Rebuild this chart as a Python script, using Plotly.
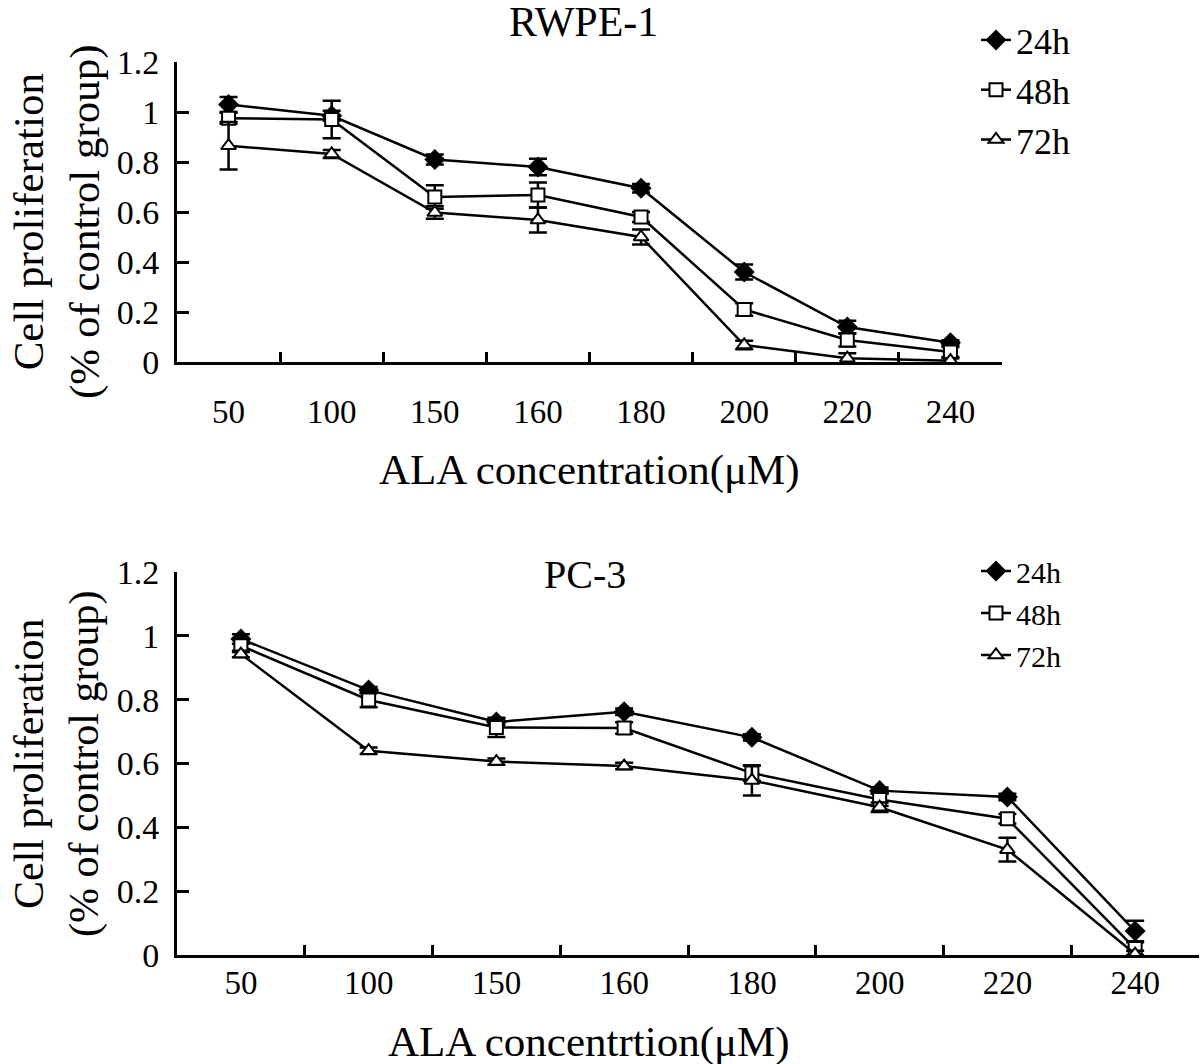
import plotly.graph_objects as go

W, H = 1200, 1064
FONT = "Liberation Serif"

conc = ["50", "100", "150", "160", "180", "200", "220", "240"]

# RWPE-1 panel
rwpe_24 = [1.03, 0.985, 0.81, 0.78, 0.695, 0.36, 0.14, 0.077]
rwpe_24_err = [0.03, 0.02, 0.02, 0.033, 0.017, 0.03, 0.025, 0.01]
rwpe_48 = [0.975, 0.97, 0.66, 0.668, 0.58, 0.21, 0.088, 0.04]
rwpe_48_err = [0.022, 0.075, 0.047, 0.05, 0.02, 0.025, 0.026, 0.02]
rwpe_72 = [0.865, 0.832, 0.598, 0.568, 0.5, 0.068, 0.015, 0.005]
rwpe_72_err = [0.095, 0.016, 0.025, 0.05, 0.03, 0.017, 0.02, 0.01]

# PC-3 panel
pc3_24 = [0.99, 0.83, 0.73, 0.762, 0.682, 0.515, 0.495, 0.075]
pc3_24_err = [0.015, 0.01, 0.01, 0.01, 0.01, 0.01, 0.01, 0.032]
pc3_48 = [0.969, 0.799, 0.713, 0.711, 0.57, 0.487, 0.427, 0.02]
pc3_48_err = [0.02, 0.023, 0.03, 0.018, 0.024, 0.02, 0.015, 0.02]
pc3_72 = [0.943, 0.64, 0.606, 0.592, 0.547, 0.463, 0.33, 0.003]
pc3_72_err = [0.01, 0.01, 0.01, 0.01, 0.047, 0.015, 0.037, 0.01]

series_names = ["24h", "48h", "72h"]
symbols = ["diamond", "square", "triangle-up"]
fills = ["black", "white", "white"]
sizes = [14, 13, 13]


def px(x):
    return x / W


def py(y):
    return 1 - y / H


fig = go.Figure()

panels = [
    ("x", "y", "legend", [rwpe_24, rwpe_48, rwpe_72], [rwpe_24_err, rwpe_48_err, rwpe_72_err]),
    ("x2", "y2", "legend2", [pc3_24, pc3_48, pc3_72], [pc3_24_err, pc3_48_err, pc3_72_err]),
]
for xa, ya, leg, ys, errs in panels:
    for i in range(3):
        fig.add_trace(go.Scatter(
            x=conc, y=ys[i], name=series_names[i],
            mode="lines+markers", xaxis=xa, yaxis=ya, legend=leg,
            line=dict(color="black", width=2.5),
            marker=dict(symbol=symbols[i], size=sizes[i], color=fills[i],
                        line=dict(color="black", width=2)),
            error_y=dict(type="data", array=errs[i], color="black",
                         thickness=2.5, width=9),
        ))


def axis_style(size):
    return dict(showline=True, linecolor="black", linewidth=3, ticks="inside",
                tickcolor="black", tickwidth=2.5, showgrid=False, zeroline=False,
                tickfont=dict(family=FONT, size=size, color="black"))


fig.update_layout(
    width=W, height=H,
    margin=dict(l=0, r=0, t=0, b=0, autoexpand=False),
    paper_bgcolor="white", plot_bgcolor="white",
    font=dict(family=FONT, color="black"),
    hovermode=False,
    xaxis=dict(domain=[px(177), px(1002)], anchor="y", type="category",
               range=[-0.5, 7.5], tickson="boundaries", ticklen=10,
               ticklabelstandoff=18, **axis_style(33)),
    yaxis=dict(domain=[py(362), py(62)], anchor="x", range=[0, 1.2], dtick=0.2,
               ticklen=12, ticklabelstandoff=8, **axis_style(34)),
    xaxis2=dict(domain=[px(177), px(1199)], anchor="y2", type="category",
                range=[-0.5, 7.5], tickson="boundaries", ticklen=10,
                ticklabelstandoff=-4, **axis_style(33)),
    yaxis2=dict(domain=[py(955), py(572)], anchor="x2", range=[0, 1.2], dtick=0.2,
                ticklen=12, ticklabelstandoff=8, **axis_style(34)),
    legend=dict(x=px(976), y=py(10), xanchor="left", yanchor="top",
                bgcolor="rgba(0,0,0,0)", tracegroupgap=0,
                font=dict(family=FONT, size=36, color="black")),
    legend2=dict(x=px(976), y=py(545), xanchor="left", yanchor="top",
                 bgcolor="rgba(0,0,0,0)", tracegroupgap=0,
                 font=dict(family=FONT, size=30, color="black")),
)


def label(text, x, y, size, angle=0):
    fig.add_annotation(text=text, x=px(x), y=py(y), xref="paper", yref="paper",
                       xanchor="center", yanchor="middle", showarrow=False,
                       textangle=angle, font=dict(family=FONT, size=size, color="black"))


label("RWPE-1", 583, 22, 42)
label("ALA concentration(μM)", 589, 470, 43)
label("Cell proliferation<br>(% of control group)", 57, 222, 43, -90)
label("PC-3", 585, 574, 40)
label("ALA concentrtion(μM)", 589, 1042, 43)
label("Cell proliferation<br>(% of control group)", 57, 764, 42, -90)

fig.write_html("out.html", config={"displayModeBar": False},
               post_script="document.body.style.margin='0';")
